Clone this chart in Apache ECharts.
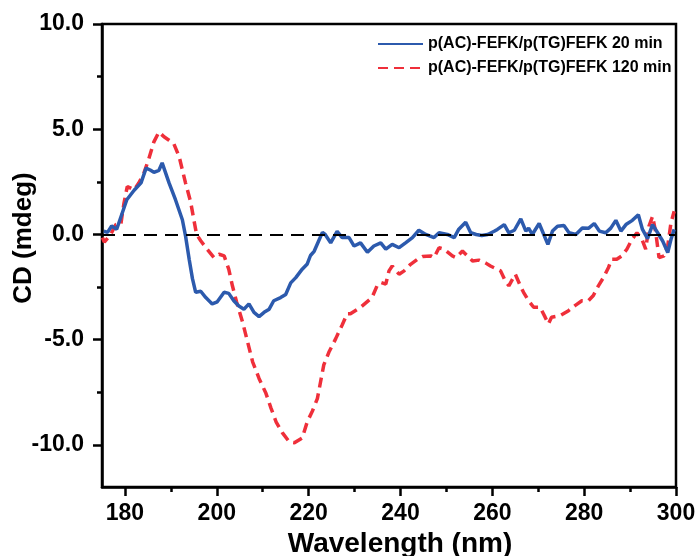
<!DOCTYPE html>
<html>
<head>
<meta charset="utf-8">
<script src="https://cdn.jsdelivr.net/npm/echarts@6/dist/echarts.min.js"></script>
<style>
html,body{margin:0;padding:0;background:#fff;}
#chart{width:699px;height:556px;}
</style>
</head>
<body>
<div id="chart"></div>
<script>
// ---- Data ----
const seriesNames = ['p(AC)-FEFK/p(TG)FEFK 20 min', 'p(AC)-FEFK/p(TG)FEFK 120 min'];

const wl20 = [175.4,176.2,177.1,178.2,179.3,180.4,182.0,183.5,184.6,185.6,186.3,187.4,188.1,189.6,191.0,192.5,193.2,194.0,194.7,195.4,196.5,197.6,198.3,199.0,200.1,201.6,202.6,203.7,204.8,205.9,207.0,208.1,209.2,210.3,211.4,212.4,213.9,215.0,216.1,217.2,218.6,219.7,220.4,221.2,222.2,223.0,223.6,224.8,226.2,227.3,228.8,229.9,231.3,232.8,234.2,235.7,236.8,238.2,239.7,241.1,242.6,244.0,245.5,247.3,248.4,250.2,251.7,252.7,254.2,255.3,256.5,257.7,259.0,260.4,261.1,262.6,263.6,264.8,266.2,267.3,267.9,268.7,270.2,271.2,272.1,273.1,274.2,275.6,276.7,278.2,279.6,281.0,282.2,283.3,284.7,285.8,286.9,288.0,289.1,290.5,291.8,292.7,293.8,294.9,296.0,297.1,298.2,298.9,299.6];
const cd20 = [0.15,0.1,0.4,0.25,0.95,1.65,2.1,2.45,3.15,3.05,2.95,3.05,3.4,2.45,1.65,0.7,-0.08,-1.2,-2.1,-2.75,-2.7,-3.0,-3.15,-3.3,-3.2,-2.75,-2.8,-3.15,-3.4,-3.55,-3.3,-3.7,-3.9,-3.7,-3.55,-3.15,-3.0,-2.85,-2.3,-2.05,-1.65,-1.4,-1.0,-0.8,-0.3,0.1,0.0,-0.4,0.15,-0.15,-0.15,-0.55,-0.4,-0.85,-0.55,-0.4,-0.7,-0.47,-0.63,-0.4,-0.15,0.2,0.0,-0.15,0.08,0.0,-0.15,0.25,0.58,0.08,0.0,-0.05,0.0,0.15,0.24,0.47,0.08,0.2,0.74,0.16,0.3,0.0,0.52,0.0,-0.47,0.16,0.39,0.42,0.08,0.0,0.31,0.3,0.52,0.16,0.08,0.3,0.67,0.16,0.47,0.67,0.94,0.24,-0.2,0.47,0.08,-0.31,-0.86,-0.24,0.24];

const wl120 = [175.1,175.5,176.9,178.0,179.1,179.4,179.8,180.5,182.0,183.0,184.1,185.2,186.3,187.4,188.5,189.6,190.6,191.8,193.2,194.3,195.0,195.6,196.5,197.9,199.4,200.5,201.6,202.6,203.4,204.3,205.6,206.7,207.8,209.2,210.7,211.8,212.9,214.3,215.8,216.9,218.6,219.7,220.8,221.9,222.6,223.3,224.4,225.9,227.3,228.4,229.1,231.3,233.8,234.9,235.7,236.8,237.5,238.2,239.7,240.8,242.2,243.7,244.8,246.6,247.3,248.4,249.5,251.3,252.1,253.5,254.6,255.7,257.1,258.5,259.6,261.8,262.8,263.6,265.0,266.1,266.8,267.9,269.0,270.4,271.5,272.2,272.9,274.8,276.6,278.0,279.5,280.9,282.0,283.1,284.2,285.3,286.0,287.1,288.2,289.3,290.4,291.5,292.6,293.4,294.1,294.9,295.6,296.3,297.4,298.2,298.9,299.6];
const cd120 = [-0.15,-0.36,0.0,0.47,0.47,0.94,1.5,2.28,2.12,2.44,2.9,3.6,4.4,4.87,4.64,4.48,4.33,3.7,2.44,1.55,0.7,0.0,-0.3,-0.7,-1.1,-0.94,-1.02,-1.65,-2.44,-3.2,-4.16,-5.1,-6.05,-6.84,-7.55,-8.25,-8.9,-9.43,-9.86,-9.9,-9.67,-8.9,-8.4,-7.8,-7.0,-6.2,-5.6,-4.95,-4.3,-3.77,-3.77,-3.46,-3.0,-2.44,-2.28,-2.36,-1.73,-1.5,-1.89,-1.73,-1.42,-1.18,-1.05,-1.02,-1.1,-0.63,-0.7,-1.02,-1.1,-0.79,-1.02,-1.26,-1.22,-1.35,-1.5,-1.73,-2.2,-2.44,-1.89,-2.44,-2.75,-3.15,-3.46,-3.46,-3.93,-4.25,-3.93,-3.85,-3.62,-3.38,-3.15,-3.15,-2.9,-2.44,-2.05,-1.57,-1.18,-1.18,-1.02,-0.7,-0.24,0.08,-0.24,-0.7,0.39,0.86,0.08,-1.1,-1.02,-0.55,0.55,1.1];

const xTicks = [180,200,220,240,260,280,300];
const xMinorTicks = [190,210,230,250,270,290];
const yTicks = [-10,-5,0,5,10];
const yMinorTicks = [-7.5,-2.5,2.5,7.5];

const xTitle = 'Wavelength (nm)';
const yTitle = 'CD (mdeg)';

// ---- Chart ----
const FONT = '"Liberation Sans", Arial, sans-serif';
const pairs = (xs, ys) => xs.map((x, i) => [x, ys[i]]);

const chart = echarts.init(document.getElementById('chart'), null, {renderer: 'canvas'});

const baseX = {type: 'value', min: 175, max: 300, gridIndex: 0, position: 'bottom', splitLine: {show: false}};
const baseY = {type: 'value', min: -12, max: 10, gridIndex: 0, position: 'left', splitLine: {show: false}};

chart.setOption({
  backgroundColor: '#fff',
  animation: false,
  grid: {left: 102, top: 24, right: 23, bottom: 69, show: true, borderColor: '#000', borderWidth: 2.5, backgroundColor: 'transparent'},
  legend: {
    data: seriesNames,
    orient: 'vertical',
    left: 377, top: 36, padding: 0,
    itemWidth: 45, itemHeight: 14, itemGap: 8,
    itemStyle: {opacity: 0},
    textStyle: {fontFamily: FONT, fontWeight: 'bold', fontSize: 16, color: '#000'}
  },
  xAxis: [
    Object.assign({}, baseX, {
      axisLine: {show: true, onZero: false, lineStyle: {color: '#000', width: 2.5}},
      axisTick: {show: true, inside: false, length: 9, lineStyle: {color: '#000', width: 2.5}, customValues: xTicks},
      axisLabel: {show: true, margin: 15, customValues: xTicks, fontFamily: FONT, fontWeight: 'bold', fontSize: 23, color: '#000'}
    }),
    Object.assign({}, baseX, {
      axisLine: {show: false, onZero: false},
      axisTick: {show: true, inside: false, length: 5, lineStyle: {color: '#000', width: 2.5}, customValues: xMinorTicks},
      axisLabel: {show: false}
    })
  ],
  yAxis: [
    Object.assign({}, baseY, {
      axisLine: {show: true, onZero: false, lineStyle: {color: '#000', width: 2.5}},
      axisTick: {show: true, inside: false, length: 9, lineStyle: {color: '#000', width: 2.5}, customValues: yTicks},
      axisLabel: {show: true, margin: 18, customValues: yTicks, formatter: v => Number(v).toFixed(1), fontFamily: FONT, fontWeight: 'bold', fontSize: 23, color: '#000'}
    }),
    Object.assign({}, baseY, {
      axisLine: {show: false, onZero: false},
      axisTick: {show: true, inside: false, length: 5, lineStyle: {color: '#000', width: 2.5}, customValues: yMinorTicks},
      axisLabel: {show: false}
    })
  ],
  graphic: [
    {type: 'text', x: 24, y: 238, rotation: Math.PI / 2, style: {text: yTitle, fontFamily: FONT, fontWeight: 'bold', fontSize: 26, fill: '#000', align: 'center', verticalAlign: 'middle'}},
    {type: 'text', x: 400, y: 544, style: {text: xTitle, fontFamily: FONT, fontWeight: 'bold', fontSize: 28, fill: '#000', align: 'center', verticalAlign: 'middle'}}
  ],
  series: [
    {
      name: seriesNames[0], type: 'line', data: pairs(wl20, cd20), xAxisIndex: 0, yAxisIndex: 0,
      symbol: 'none', showSymbol: false, smooth: false, z: 3,
      lineStyle: {color: '#2c5aad', width: 3.5},
      itemStyle: {color: '#2c5aad'},
      markLine: {
        silent: true, symbol: 'none', label: {show: false},
        lineStyle: {color: '#000', type: [13, 8], width: 2.2},
        data: [{yAxis: 0}]
      }
    },
    {
      name: seriesNames[1], type: 'line', data: pairs(wl120, cd120), xAxisIndex: 0, yAxisIndex: 0,
      symbol: 'none', showSymbol: false, smooth: false, z: 2,
      lineStyle: {color: '#ef2f3a', width: 3.5, type: [10, 6]},
      itemStyle: {color: '#ef2f3a'}
    }
  ]
});
</script>
</body>
</html>
